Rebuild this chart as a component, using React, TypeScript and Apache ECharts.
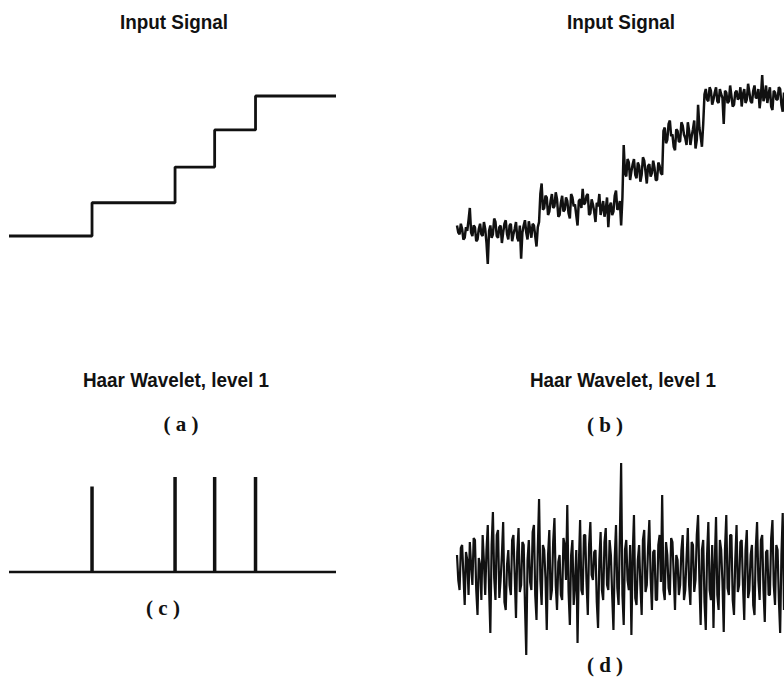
import { useEffect, useRef } from "react";
import * as echarts from "echarts";

// Clean staircase input: sample positions of the jumps and the level of each stair
const stepEdges = [0, 65, 130, 161, 193, 256];
const stepLevels = [0, 0.95, 1.97, 3.03, 4];

// Haar level-1 detail coefficients of the clean staircase
const spikePositions = [65, 130, 161, 193];
const spikeHeights = [0.9, 1, 1, 1];

// Noisy staircase input (256 samples)
const noisySignal = [
  0.3, 0.1, 0.05, 0.35, 0.2, -0.1, -0.05, 0.25, 0.15, 0.45, 0.8, 0.1, 0.0, 0.3, 0.25, -0.15,
  -0.1, 0.2, 0.35, 0.05, 0.0, 0.4, 0.2, -0.2, -0.8, 0.15, 0.3, -0.05, 0.05, 0.5, 0.4, 0.0,
  -0.05, 0.25, 0.3, -0.2, 0.1, 0.35, 0.45, 0.05, -0.1, 0.3, 0.35, -0.15, 0.05, 0.2, 0.4, -0.05,
  -0.15, 0.3, -0.65, 0.1, 0.3, 0.45, 0.1, -0.1, 0.42, 0.2, -0.05, 0.35, 0.3, 0.0, -0.3, 0.25,
  0.4, 1.2, 1.5, 0.75, 0.8, 1.15, 1.1, 0.6, 0.7, 1.0, 1.2, 0.8, 0.85, 1.25, 1.05, 0.55,
  0.6, 0.95, 1.15, 0.7, 0.75, 1.1, 1.0, 0.65, 0.5, 1.2, 1.1, 0.85, 0.9, 0.6, 0.3, 1.0,
  1.05, 0.8, 1.35, 0.9, 0.95, 1.15, 1.2, 0.6, 0.65, 1.05, 0.9, 0.7, 0.4, 0.95, 0.85, 1.2,
  0.6, 0.8, 1.0, 0.55, 0.75, 1.1, 0.25, 0.85, 0.95, 0.6, 0.7, 1.15, 1.3, 0.75, 0.8, 1.0,
  0.3, 1.1, 2.6, 1.8, 1.7, 2.2, 2.1, 1.6, 1.85, 2.05, 2.2, 1.75, 1.65, 2.1, 2.0, 1.55,
  1.75, 2.25, 2.15, 1.85, 1.5, 2.0, 2.05, 1.7, 1.8, 2.15, 1.95, 1.6, 1.6, 2.1, 2.0, 1.8,
  1.75, 3.0, 3.1, 2.65, 2.75, 3.2, 3.3, 2.85, 2.9, 2.55, 2.45, 3.05, 3.0, 2.7, 2.7, 3.25,
  3.15, 2.9, 2.8, 2.6, 3.25, 3.0, 2.6, 2.85, 3.05, 3.3, 2.5, 2.75, 3.75, 3.1, 2.85, 2.55,
  3.2, 4.05, 4.2, 3.9, 3.85, 4.25, 4.15, 3.75, 3.9, 4.1, 4.25, 3.85, 3.8, 4.2, 4.05, 3.95,
  3.2, 4.15, 4.1, 3.8, 3.85, 4.3, 4.0, 3.7, 3.75, 4.1, 4.15, 3.9, 3.95, 4.25, 3.7, 4.05,
  4.2, 3.8, 3.9, 4.35, 4.1, 3.85, 3.8, 4.15, 4.3, 3.95, 3.95, 4.2, 3.65, 4.0, 4.6, 3.85,
  4.0, 4.3, 3.8, 4.05, 4.25, 3.7, 3.6, 4.15, 4.1, 3.9, 3.9, 4.25, 4.2, 3.75, 3.55, 4.1,
];

// Haar level-1 detail coefficients of the noisy input (256 samples)
const noisyDetail = [
  1.5, -1.0, -2.0, 2.2, 2.5, -0.5, -3.5, 1.8, 1.0, -2.5, 2.8, 0.5, -1.5, 3.2, 3.0, -2.0,
  -4.5, 1.2, 0.5, -3.0, 3.5, 0.8, -2.5, 2.0, 4.5, -1.8, -6.3, 2.5, 5.8, -0.8, -3.0, 3.5,
  4.0, -2.8, -1.0, 1.5, 4.8, -3.2, -4.0, 0.5, 2.0, -1.5, -2.5, 3.0, 3.5, -0.5, -4.8, 1.8,
  4.2, -2.2, -1.5, 2.8, 2.5, -3.5, -8.5, 1.0, 3.0, -1.2, -2.0, 3.8, 4.5, -2.5, -5.0, 2.2,
  7.1, -1.0, -3.5, 2.5, 2.0, -0.8, -6.0, 1.5, 4.0, -3.0, -2.0, 2.8, 5.2, -1.5, -4.0, 0.8,
  1.5, -2.5, -3.0, 3.2, 2.5, -1.0, 6.5, -2.2, -5.5, 1.5, 3.0, -3.5, -1.5, 2.0, -7.3, 0.5,
  5.0, -2.0, -2.5, 3.5, 3.5, -1.2, -4.5, 2.5, 4.8, -0.5, -1.0, 1.8, 2.0, -3.2, -5.8, 1.0,
  3.8, -2.0, -3.0, 2.8, 4.2, -1.5, -2.0, 3.0, 1.5, -2.5, -6.0, 1.2, 4.5, -1.8, -3.5, 3.5,
  10.7, -2.5, -5.5, 2.0, 3.0, -1.0, -2.0, 2.5, -6.5, 1.5, 5.5, -2.8, -3.5, 1.0, 2.5, -1.5,
  -4.5, 3.0, 4.0, -2.2, -1.5, 2.2, 5.0, -0.8, -4.0, 1.8, 2.0, -3.0, -3.0, 2.5, 3.5, -1.2,
  7.5, -2.0, -3.0, 2.8, 1.5, -1.8, -2.5, 3.2, 2.8, -0.5, -4.0, 1.5, 1.0, -2.5, -1.5, 2.0,
  3.5, -3.0, -2.0, 1.2, 4.2, -1.5, -3.5, 2.8, 2.5, -2.2, -1.0, 3.5, 5.5, -1.0, -5.5, 2.0,
  3.0, -3.2, -6.0, 1.5, 4.8, -2.0, -3.0, 2.5, -5.8, 0.8, 5.3, -2.5, -4.0, 3.0, 2.0, -1.2,
  -6.2, 2.2, 5.5, -1.8, -2.5, 3.5, 3.5, -3.0, -4.5, 1.0, 4.5, -2.2, -1.5, 2.8, 3.0, -1.5,
  -5.0, 2.0, 4.0, -2.8, -2.0, 1.5, 2.5, -3.5, -4.5, 2.2, 4.8, -1.0, -3.0, 3.0, 3.5, -2.0,
  -5.2, 1.8, 2.0, -2.5, -2.5, 3.2, 5.0, -1.5, -3.5, 2.5, 2.0, -3.0, -6.3, 1.5, 5.7, -4.0,
];

const panelTitles = ["Input Signal", "Input Signal", "Haar Wavelet, level 1", "Haar Wavelet, level 1"];
const panelLabels = ["( a )", "( b )", "( c )", "( d )"];

const INK = "#111111";
const TITLE_FONT = "bold 21px 'Liberation Sans', Arial, sans-serif";
const LABEL_FONT = "bold 21px 'Liberation Serif', 'Times New Roman', serif";

function buildStairs(edges: number[], levels: number[]): number[][] {
  const pts: number[][] = [];
  levels.forEach((lv, i) => {
    pts.push([edges[i], lv]);
    pts.push([edges[i + 1], lv]);
  });
  return pts;
}

function indexed(values: number[]): number[][] {
  return values.map((v, i) => [i, v]);
}

export default function App() {
  const ref = useRef<HTMLDivElement>(null);

  useEffect(() => {
    if (!ref.current) return;
    const chart = echarts.init(ref.current, undefined, { renderer: "svg" });

    const hiddenAxis = (min: number, max: number, gridIndex: number) => ({
      type: "value" as const,
      gridIndex,
      min,
      max,
      show: false,
    });

    const titlePos = [
      [174, 22],
      [621, 22],
      [176, 380],
      [623, 380],
    ];
    const labelPos = [
      [181, 424],
      [605, 425],
      [163, 608],
      [605, 665],
    ];

    const texts: any[] = [];
    panelTitles.forEach((t, i) => {
      texts.push({
        type: "text",
        x: titlePos[i][0],
        y: titlePos[i][1],
        scaleX: 0.9,
        style: {
          text: t,
          font: TITLE_FONT,
          fill: INK,
          textAlign: "center",
          align: "center",
          textVerticalAlign: "middle",
          verticalAlign: "middle",
        },
      });
    });
    panelLabels.forEach((t, i) => {
      texts.push({
        type: "text",
        x: labelPos[i][0],
        y: labelPos[i][1],
        style: {
          text: t,
          font: LABEL_FONT,
          fill: INK,
          textAlign: "center",
          align: "center",
          textVerticalAlign: "middle",
          verticalAlign: "middle",
        },
      });
    });

    chart.setOption({
      animation: false,
      backgroundColor: "#ffffff",
      grid: [
        { left: 9, top: 61, width: 327, height: 210 },
        { left: 457, top: 61, width: 327, height: 210 },
        { left: 9, top: 477, width: 327, height: 142.5 },
        { left: 457, top: 450, width: 327, height: 220 },
      ],
      xAxis: [
        hiddenAxis(0, 256, 0),
        hiddenAxis(0, noisySignal.length - 1, 1),
        hiddenAxis(0, 256, 2),
        hiddenAxis(0, noisyDetail.length - 1, 3),
      ],
      yAxis: [
        hiddenAxis(-1, 5, 0),
        hiddenAxis(-1, 5, 1),
        hiddenAxis(-0.5, 1, 2),
        hiddenAxis(-10, 12, 3),
      ],
      series: [
        {
          type: "line",
          xAxisIndex: 0,
          yAxisIndex: 0,
          data: buildStairs(stepEdges, stepLevels),
          showSymbol: false,
          lineStyle: { color: INK, width: 2.8 },
        },
        {
          type: "line",
          xAxisIndex: 1,
          yAxisIndex: 1,
          data: indexed(noisySignal),
          showSymbol: false,
          lineStyle: { color: INK, width: 2.5 },
        },
        {
          type: "line",
          xAxisIndex: 2,
          yAxisIndex: 2,
          data: [
            [0, 0],
            [256, 0],
          ],
          showSymbol: false,
          lineStyle: { color: INK, width: 2.5 },
        },
        {
          type: "bar",
          xAxisIndex: 2,
          yAxisIndex: 2,
          barWidth: 3.5,
          data: spikePositions.map((x, i) => [x, spikeHeights[i]]),
          itemStyle: { color: INK },
        },
        {
          type: "line",
          xAxisIndex: 3,
          yAxisIndex: 3,
          data: indexed(noisyDetail),
          showSymbol: false,
          lineStyle: { color: INK, width: 2.2 },
        },
      ],
      graphic: texts,
    });

    return () => chart.dispose();
  }, []);

  return (
    <div
      ref={ref}
      style={{ position: "fixed", left: 0, top: 0, width: 784, height: 680, background: "#fff" }}
    />
  );
}
